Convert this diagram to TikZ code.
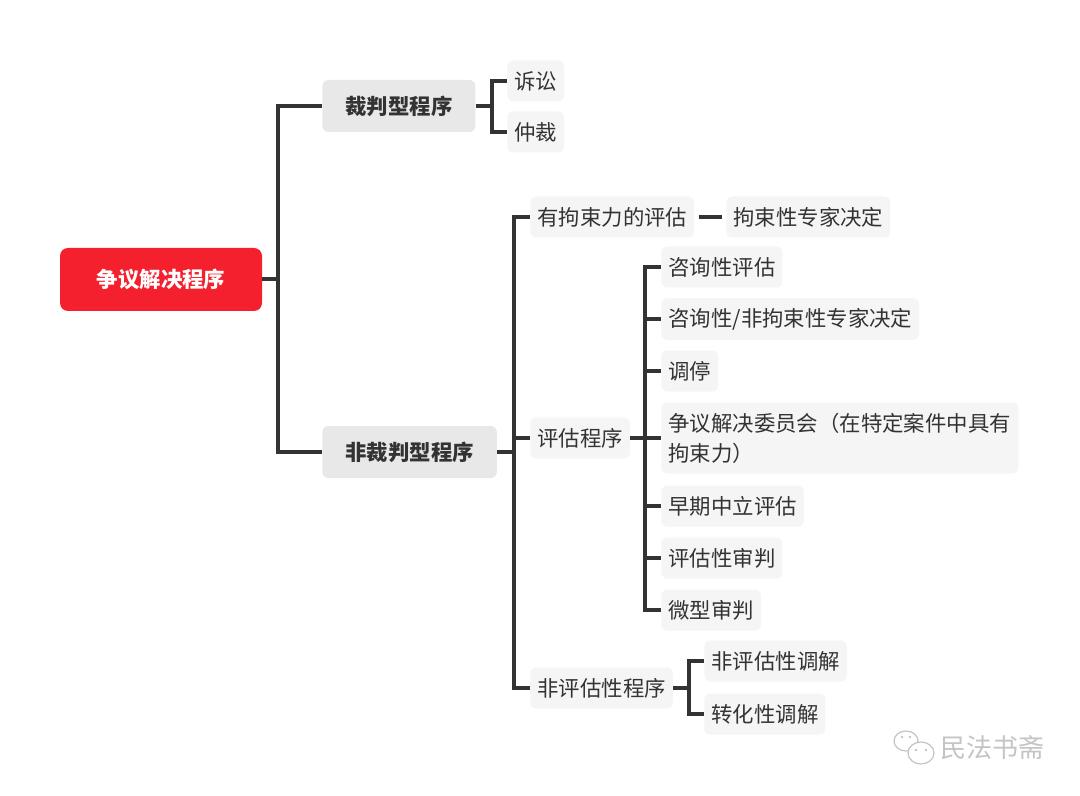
\documentclass[tikz,border=0pt]{standalone}
\usepackage{fontspec}
\setmainfont{Noto Sans CJK SC}
\definecolor{rootred}{HTML}{F5202D}
\definecolor{mainbox}{HTML}{E8E8E8}
\definecolor{leafbox}{HTML}{F6F5F5}
\definecolor{ink}{HTML}{333333}
\definecolor{wmgrey}{HTML}{C4C4C4}
\begin{document}
\begin{tikzpicture}[x=0.5pt,y=-0.5pt,
		link/.style={draw=ink,line width=2pt},
		rootnode/.style={fill=rootred,text=white,rounded corners=4pt,minimum width=101pt,minimum height=31.5pt,font=\fontsize{10.7}{15}\selectfont\bfseries},
		topic/.style={anchor=west,fill=mainbox,text=ink,rounded corners=3pt,inner xsep=11.5pt,minimum height=26pt,font=\fontsize{10.7}{15}\selectfont\bfseries},
		leaf/.style={anchor=west,fill=leafbox,text=ink,rounded corners=3pt,inner xsep=3.5pt,inner ysep=4.9pt,minimum height=20.5pt,font=\fontsize{10.7}{15}\selectfont}]
			\useasboundingbox[fill=white] (0,0) rectangle (1080,796);
			\node[rootnode] (root) at (161,279.5) {争议解决程序};
			\node[topic] (jud) at (322,106) {裁判型程序};
			\node[topic] (nonjud) at (322,452) {非裁判型程序};
			\node[leaf] (lit) at (507,81) {诉讼};
			\node[leaf] (arb) at (507,132) {仲裁};
			\node[leaf] (bind) at (530,217) {有拘束力的评估};
			\node[leaf] (expert) at (726,217) {拘束性专家决定};
			\node[leaf] (evalp) at (530,438) {评估程序};
			\node[leaf] (nonevalp) at (530,688) {非评估性程序};
			\node[leaf] (e1) at (661,267) {咨询性评估};
			\node[leaf] (e2) at (661,319) {咨询性/非拘束性专家决定};
			\node[leaf] (e3) at (661,371) {调停};
			\node[leaf,text width=171.5pt,align=left,minimum height=35.5pt] (e4) at (661,438) {争议解决委员会（在特定案件中具有\\拘束力）};
			\node[leaf] (e5) at (661,506) {早期中立评估};
			\node[leaf] (e6) at (661,558) {评估性审判};
			\node[leaf] (e7) at (661,610) {微型审判};
			\node[leaf] (m1) at (704,661) {非评估性调解};
			\node[leaf] (m2) at (704,714) {转化性调解};
			\draw[link] (root.east) -- ++(16,0) coordinate (s1);
			\draw[link] (s1) |- (jud.west);
			\draw[link] (s1) |- (nonjud.west);
			\draw[link] (jud.east) -- ++(16,0) coordinate (s2);
			\draw[link] (s2) |- (lit.west);
			\draw[link] (s2) |- (arb.west);
			\draw[link] (nonjud.east) -- ++(17,0) coordinate (s3);
			\draw[link] (s3) |- (bind.west);
			\draw[link] (s3) |- (evalp.west);
			\draw[link] (s3) |- (nonevalp.west);
			\draw[link,shorten <=2pt,shorten >=2pt] (bind.east) -- (expert.west);
			\draw[link] (evalp.east) -- ++(15,0) coordinate (s4);
			\foreach \n in {e1,e2,e3,e4,e5,e6,e7}
				\draw[link] (s4) |- (\n.west);
			\draw[link] (nonevalp.east) -- ++(16,0) coordinate (s5);
			\draw[link] (s5) |- (m1.west);
			\draw[link] (s5) |- (m2.west);
			\draw[wmgrey,line width=0.6pt] (906,741) ellipse (12 and 10);
			\draw[wmgrey,line width=0.6pt,fill=white] (921,753) ellipse (13 and 11);
			\fill[wmgrey] (902,737) circle (1.3) (910,737) circle (1.3) (916,750) circle (1.3) (926,750) circle (1.3);
			\node[wmgrey,font=\fontsize{13}{15}\selectfont] (wm) at (992,748) {民法书斋};
		\end{tikzpicture}
\end{document}
